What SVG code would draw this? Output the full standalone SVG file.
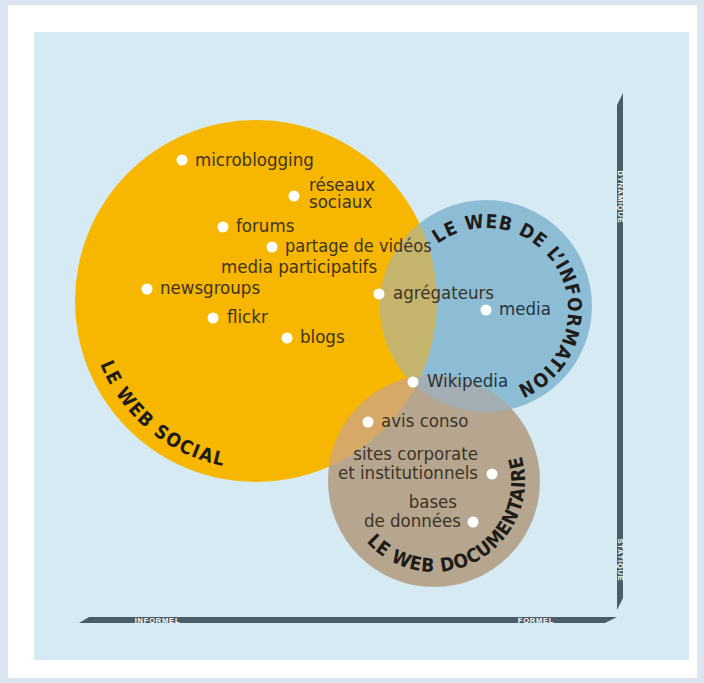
<svg xmlns="http://www.w3.org/2000/svg" width="704" height="683" viewBox="0 0 704 683">
<style>
.lbl{font-family:"DejaVu Sans Condensed","DejaVu Sans",sans-serif;font-stretch:condensed;font-size:18.5px;fill:#3d3426}
.lblb{font-family:"DejaVu Sans Condensed","DejaVu Sans",sans-serif;font-stretch:condensed;font-size:18.5px;fill:#263440}
.ttl{font-family:"DejaVu Sans Condensed","DejaVu Sans",sans-serif;font-stretch:condensed;font-size:19px;font-weight:bold;fill:#1e1b18}
.ax{font-family:"Liberation Sans",Arial,sans-serif;font-size:7.5px;font-weight:bold;fill:#ffffff;letter-spacing:0.8px}
.dot{fill:#ffffff}
.bar{fill:#4a5d68}
</style>
<defs>
<clipPath id="cY"><circle cx="256" cy="301" r="181"/></clipPath>
<clipPath id="cB"><circle cx="486" cy="306" r="106"/></clipPath>
<path id="pSocial" d="M100.2,363.9 A167,167 0 0,0 285.2,466.4" fill="none"/>
<path id="pInfo" d="M437.8,243.7 A82,82 0 1,1 507.2,389.2" fill="none"/>
<path id="pDoc" d="M366.4,541.9 A91,91 0 0,0 519.5,449.9" fill="none"/>
</defs>
<rect x="0" y="0" width="704" height="683" fill="#dbe5ef"/>
<rect x="8" y="5" width="689" height="673" fill="#ffffff"/>
<rect x="34" y="32" width="655" height="628" fill="#d6eaf3"/>

<g id="axes">
<polygon class="bar" points="79,623 89,617 617,617 605,623"/>
<polygon class="bar" points="617,105 623,93 623,598 617,610"/>
<text class="ax" x="157.5" y="620" text-anchor="middle" dominant-baseline="central">INFORMEL</text>
<text class="ax" x="536" y="620" text-anchor="middle" dominant-baseline="central">FORMEL</text>
<text class="ax" transform="translate(620,197) rotate(90)" text-anchor="middle" dominant-baseline="central">DYNAMIQUE</text>
<text class="ax" transform="translate(620,560) rotate(90)" text-anchor="middle" dominant-baseline="central">STATIQUE</text>
</g>

<g id="web-social">
<circle cx="256" cy="301" r="181" fill="#f7b600"/>
</g>
<g id="web-information">
<circle cx="486" cy="306" r="106" fill="#8cbdd5"/>
<circle cx="486" cy="306" r="106" fill="#c5b46c" clip-path="url(#cY)"/>
</g>
<g id="web-documentaire">
<circle cx="434" cy="481" r="106" fill="#b6a68f"/>
<circle cx="434" cy="481" r="106" fill="#d6a966" clip-path="url(#cY)"/>
<circle cx="434" cy="481" r="106" fill="#a2aeb3" clip-path="url(#cB)"/>
<g clip-path="url(#cY)"><circle cx="434" cy="481" r="106" fill="#c0ad85" clip-path="url(#cB)"/></g>
</g>

<g id="titles">
<text class="ttl"><textPath href="#pSocial" textLength="166" lengthAdjust="spacing">LE WEB SOCIAL</textPath></text>
<text class="ttl"><textPath href="#pInfo" textLength="277" lengthAdjust="spacing">LE WEB DE L’INFORMATION</textPath></text>
<text class="ttl"><textPath href="#pDoc" textLength="244" lengthAdjust="spacing">LE WEB DOCUMENTAIRE</textPath></text>
</g>

<g id="n-microblogging"><circle class="dot" cx="182" cy="160" r="5.5"/><text class="lbl" x="195" y="166">microblogging</text></g>
<g id="n-reseaux"><circle class="dot" cx="294" cy="196" r="5.5"/><text class="lbl" x="309" y="191">réseaux</text><text class="lbl" x="309" y="208">sociaux</text></g>
<g id="n-forums"><circle class="dot" cx="223" cy="227" r="5.5"/><text class="lbl" x="236" y="232">forums</text></g>
<g id="n-partage"><circle class="dot" cx="272" cy="247" r="5.5"/><text class="lbl" x="285" y="252" style="font-size:18px">partage de vidéos</text></g>
<g id="n-media-participatifs"><text class="lbl" x="221" y="273">media participatifs</text></g>
<g id="n-newsgroups"><circle class="dot" cx="147" cy="289" r="5.5"/><text class="lbl" x="160" y="294">newsgroups</text></g>
<g id="n-agregateurs"><circle class="dot" cx="379" cy="294" r="5.5"/><text class="lbl" x="393" y="299">agrégateurs</text></g>
<g id="n-media"><circle class="dot" cx="486" cy="310" r="5.5"/><text class="lblb" x="499" y="315">media</text></g>
<g id="n-flickr"><circle class="dot" cx="213" cy="318" r="5.5"/><text class="lbl" x="227" y="323">flickr</text></g>
<g id="n-blogs"><circle class="dot" cx="287" cy="338" r="5.5"/><text class="lbl" x="300" y="343">blogs</text></g>
<g id="n-wikipedia"><circle class="dot" cx="413" cy="382" r="5.5"/><text class="lblb" x="427" y="387">Wikipedia</text></g>
<g id="n-avis"><circle class="dot" cx="368" cy="422" r="5.5"/><text class="lbl" x="381" y="427">avis conso</text></g>
<g id="n-sites"><circle class="dot" cx="492" cy="474" r="5.5"/><text class="lbl" x="478" y="460" text-anchor="end">sites corporate</text><text class="lbl" x="478" y="479" text-anchor="end">et institutionnels</text></g>
<g id="n-bases"><circle class="dot" cx="473" cy="522" r="5.5"/><text class="lbl" x="457" y="508" text-anchor="end">bases</text><text class="lbl" x="461" y="527" text-anchor="end">de données</text></g>
</svg>
